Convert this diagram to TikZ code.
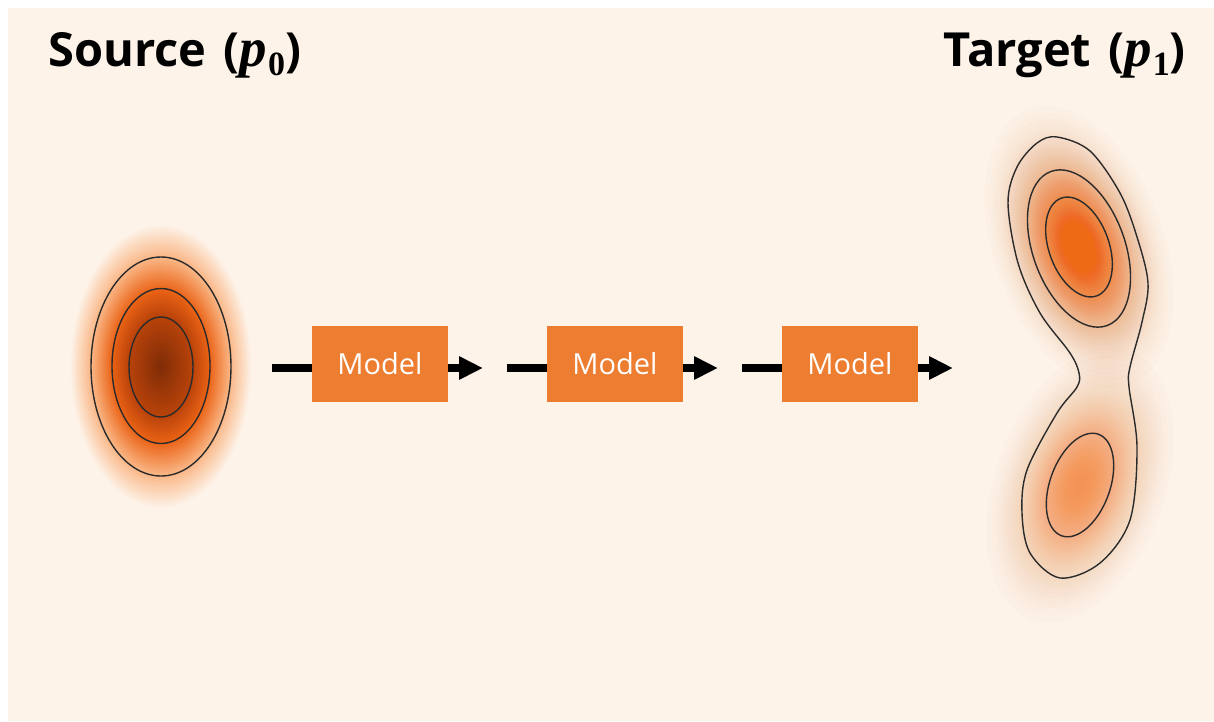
\documentclass[tikz,border=0pt]{standalone}
\usepackage{fontspec}
\setsansfont{Open Sans}
\newfontfamily\pfont{Liberation Serif}
\usetikzlibrary{arrows.meta}
\definecolor{bgc}{HTML}{FDF3E9}
\definecolor{modelc}{HTML}{ED7D31}
\definecolor{blobc}{HTML}{EE6A14}
\definecolor{lowc}{HTML}{F47E2E}
\definecolor{sA}{HTML}{FAB786}
\definecolor{sB}{HTML}{EA6215}
\definecolor{sC}{HTML}{B9430A}
\definecolor{sD}{HTML}{7F2C07}
\definecolor{contc}{HTML}{2B2B2B}
% cx cy rx ry s0 s1 colA colB N
\newcommand\gradring[9]{%
  \foreach \k [evaluate=\k as \s using {#5-(#5-#6)*\k/#9},
               evaluate=\k as \p using {int(round(100*\k/#9))}] in {0,...,#9}{%
    \fill[#8!\p!#7] (#1,#2) ellipse [x radius=\s*#3, y radius=\s*#4];
  }}
% cx cy sigmaMaj sigmaMin rot I0 color
\newcommand\blobstack[7]{%
  \begin{scope}[shift={(#1,#2)}, rotate=#5]
  \foreach \k in {1,...,200}{%
    \pgfmathsetmacro\q{1-0.98^\k}%
    \ifdim\q pt<#6pt
      \ifdim\q pt>0.04pt
        \pgfmathsetmacro\d{sqrt(-2*ln(\q/#6))}%
        \fill[#7, opacity=0.02] (0,0) ellipse [x radius=\d*#4, y radius=\d*#3];
      \fi
    \fi
  }
  \end{scope}}
\newcommand\pp[1]{{\pfont\bfseries\itshape\fontsize{55}{57}\selectfont p}\kern1pt\raisebox{-0.2em}{\pfont\bfseries\fontsize{34}{36}\selectfont #1}}
\tikzset{
  contour/.style={draw=contc, line width=1.4pt},
  titletext/.style={font=\sffamily\bfseries\fontsize{47}{52}\selectfont, inner sep=0pt},
  modelbox/.style={fill=modelc, text=white, minimum width=136pt, minimum height=76pt,
    inner sep=0pt, font=\sffamily\fontsize{29}{32}\selectfont},
  conn/.style={line width=8pt, black},
  connarrow/.style={conn, -{Triangle[length=24pt,width=22pt]}}
}
\begin{document}
\begin{tikzpicture}[x=1pt,y=-1pt]
\useasboundingbox (0,0) rectangle (1214,721);
\fill[bgc] (8,8) rectangle (1214,721);
% ---- source density
\gradring{161}{366.5}{70}{109.5}{1.30}{1.0}{bgc}{sA}{30}
\gradring{161}{366.5}{70}{109.5}{1.0}{0.70}{sA}{sB}{30}
\gradring{161}{366.5}{70}{109.5}{0.70}{0.46}{sB}{sC}{25}
\gradring{161}{366.5}{70}{109.5}{0.46}{0.0}{sC}{sD}{40}
\draw[contour] (161,366.5) ellipse [x radius=70, y radius=109.5];
\draw[contour] (161,366) ellipse [x radius=49, y radius=77.5];
\draw[contour] (161,367) ellipse [x radius=32, y radius=50];
% ---- target density
\blobstack{1080}{485}{64}{38}{-20}{0.72}{lowc}
\blobstack{1079}{247}{62}{36}{20}{0.96}{blobc}
\draw[contour] plot[smooth cycle, tension=0.55] coordinates {
  (1057,137) (1090,151) (1120,193) (1137,237) (1148,283) (1142,322) (1130,367) (1129,387)
  (1137,447) (1130,520) (1100,563) (1060,578) (1030,553) (1022,513) (1027,470)
  (1057,413) (1077,387) (1079,373) (1070,353) (1040,313) (1018,263) (1008,203)
  (1017,167) (1037,143)};
\draw[contour, rotate around={20:(1079,248.5)}] (1079,248.5) ellipse [x radius=46, y radius=82];
\draw[contour, rotate around={20:(1079,247)}] (1079,247) ellipse [x radius=30, y radius=52];
\draw[contour, rotate around={-20:(1080,485)}] (1080,485) ellipse [x radius=30, y radius=54];
% ---- titles
\node[titletext, anchor=base west] (src) at (48,66) {Source\kern5pt\ (\pp{0})};
\node[titletext, anchor=base east] (tgt) at (1186,66) {Target\kern5pt\ (\pp{1})};
% ---- models
\node[modelbox] (m1) at (380,364) {Model};
\node[modelbox] (m2) at (615,364) {Model};
\node[modelbox] (m3) at (850,364) {Model};
\coordinate (a1) at (272,368); \coordinate (b1) at (483,368);
\coordinate (a2) at (507,368); \coordinate (b2) at (718,368);
\coordinate (a3) at (742,368); \coordinate (b3) at (953,368);
\draw[conn] (a1) -- (a1 -| m1.west);
\draw[connarrow] (m1.east |- a1) -- (b1);
\draw[conn] (a2) -- (a2 -| m2.west);
\draw[connarrow] (m2.east |- a2) -- (b2);
\draw[conn] (a3) -- (a3 -| m3.west);
\draw[connarrow] (m3.east |- a3) -- (b3);
\end{tikzpicture}
\end{document}
